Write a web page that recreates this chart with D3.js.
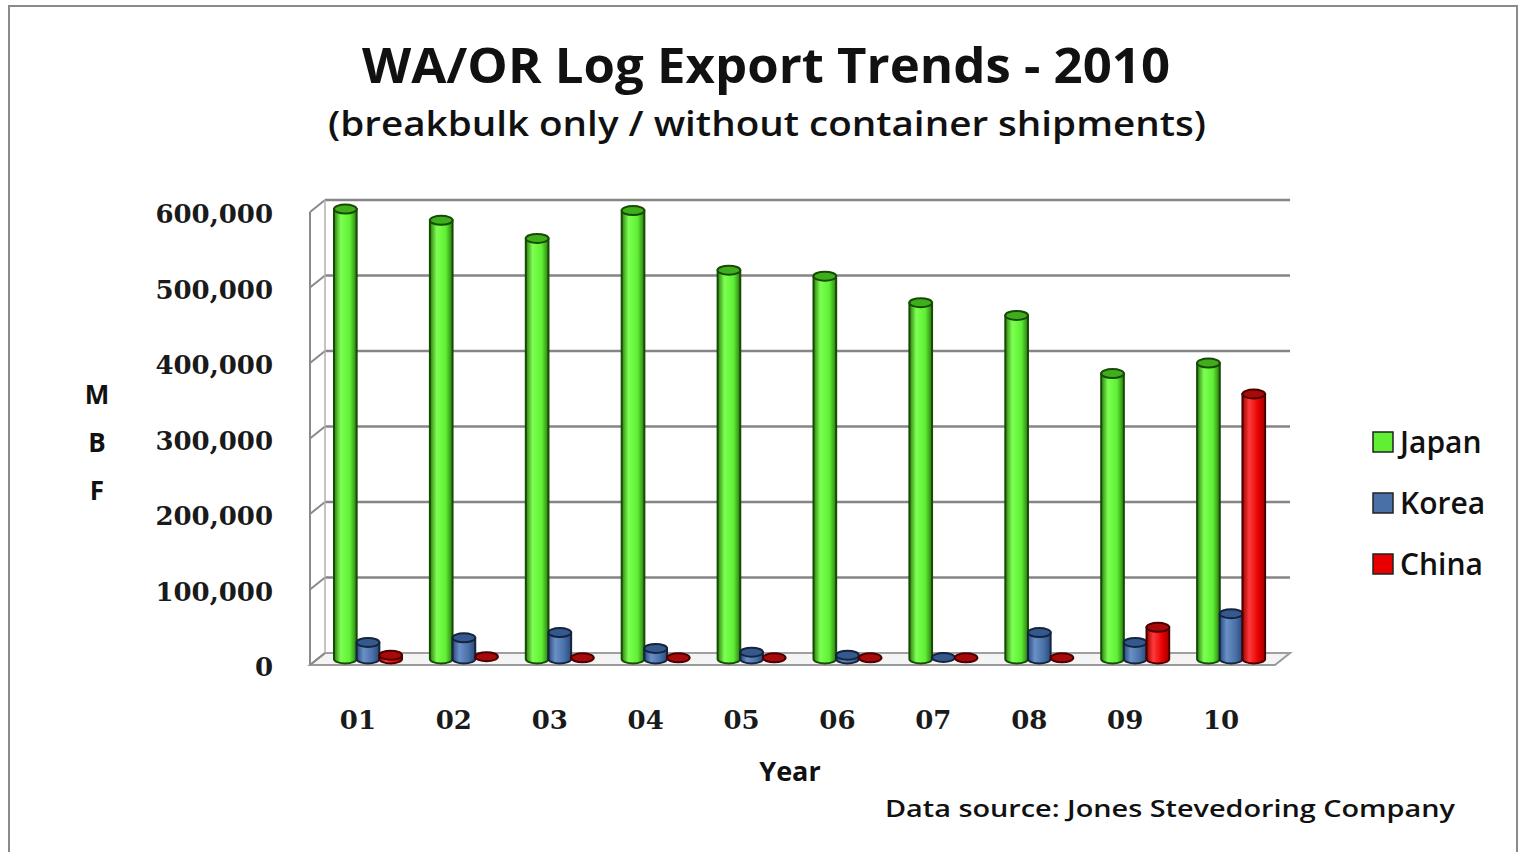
<!DOCTYPE html>
<html>
<head>
<meta charset="utf-8">
<script src="https://cdn.jsdelivr.net/npm/d3@7"></script>
<style>
  body { margin: 0; background: #fff; }
  svg { display: block; }
</style>
</head>
<body>
<div id="chart"></div>
<script>
// values (MBF)
const years = ["01", "02", "03", "04", "05", "06", "07", "08", "09", "10"];
const seriesNames = ["Japan", "Korea", "China"];
const japan = [596000, 581000, 557000, 594000, 515000, 507000, 472000, 455000, 378000, 392000];
const korea = [22000, 28000, 35000, 14000, 9000, 5000, 2000, 35000, 22000, 60000];
const china = [5000, 3000, 1500, 1500, 1500, 1500, 1500, 1500, 42000, 351000];
const yTicks = [0, 100000, 200000, 300000, 400000, 500000, 600000];

const colors = {
  Japan: {dark: "#2b7d10", light: "#7dff52", mid: "#5ff034", top: "#3fae1c", line: "#174a05"},
  Korea: {dark: "#2a4a7a", light: "#6a90c8", mid: "#4a70a8", top: "#35598c", line: "#14243f"},
  China: {dark: "#9e0000", light: "#ff3a3a", mid: "#e80000", top: "#a80a0a", line: "#4a0000"}
};

const W = 1520, H = 852;
const depth = {dx: 15, dy: -12};   // 3d offset of back wall
const plot = {left: 310, right: 1275, bottom: 665, top: 212};

const svg = d3.select("#chart").append("svg")
  .attr("width", W).attr("height", H);

// outer frame
svg.append("rect")
  .attr("x", 9).attr("y", 6).attr("width", 1508).attr("height", 860)
  .attr("fill", "#fff").attr("stroke", "#8a8a8a").attr("stroke-width", 2);

// scales
let y = d3.scaleLinear().domain([0, 600000]).range([plot.bottom, plot.top]);
let x = d3.scaleBand().domain(years).range([plot.left, 1269]);
let xInner = d3.scaleBand().domain(seriesNames).range([24, 92]);

const seriesData = {Japan: japan, Korea: korea, China: china};

// gradients for cylinders
const defs = svg.append("defs");
seriesNames.forEach(function (s) {
  let g = defs.append("linearGradient").attr("id", "grad" + s)
    .attr("x1", "0%").attr("x2", "100%").attr("y1", "0%").attr("y2", "0%");
  g.append("stop").attr("offset", "0%").attr("stop-color", colors[s].dark);
  g.append("stop").attr("offset", "30%").attr("stop-color", colors[s].light);
  g.append("stop").attr("offset", "70%").attr("stop-color", colors[s].mid);
  g.append("stop").attr("offset", "100%").attr("stop-color", colors[s].dark);
});

// floor
let x0 = plot.left, x1 = plot.right, y0 = plot.bottom;
svg.append("path")
  .attr("d", "M" + x0 + "," + y0 + " L" + (x0 + depth.dx) + "," + (y0 + depth.dy) +
    " L" + (x1 + depth.dx) + "," + (y0 + depth.dy) + " L" + x1 + "," + y0 + "Z")
  .attr("fill", "#f4f4f4").attr("stroke", "#9a9a9a").attr("stroke-width", 2);

// back wall gridlines + left wall slants
const grid = svg.append("g");
grid.selectAll("line.back").data(yTicks).enter().append("line")
  .attr("class", "back")
  .attr("x1", x0 + depth.dx).attr("x2", x1 + depth.dx)
  .attr("y1", d => y(d) + depth.dy).attr("y2", d => y(d) + depth.dy)
  .attr("stroke", d => d === 0 ? "#a0a0a0" : "#858585")
  .attr("stroke-width", d => d === 0 ? 1.5 : 2.5);
grid.selectAll("line.side").data(yTicks).enter().append("line")
  .attr("class", "side")
  .attr("x1", x0).attr("x2", x0 + depth.dx)
  .attr("y1", d => y(d)).attr("y2", d => y(d) + depth.dy)
  .attr("stroke", "#8a8a8a").attr("stroke-width", 2);
grid.append("line")
  .attr("x1", x0).attr("x2", x0).attr("y1", y(0)).attr("y2", y(600000))
  .attr("stroke", "#8a8a8a").attr("stroke-width", 2);
grid.append("line")
  .attr("x1", x0 + depth.dx).attr("x2", x0 + depth.dx)
  .attr("y1", y(0) + depth.dy).attr("y2", y(600000) + depth.dy)
  .attr("stroke", "#b0b0b0").attr("stroke-width", 1.5);

// y axis labels
const yAxis = svg.append("g")
  .attr("transform", "translate(273,0)")
  .call(d3.axisLeft(y).tickValues(yTicks).tickFormat(d3.format(",")).tickSize(0).tickPadding(0));
yAxis.select(".domain").remove();
yAxis.selectAll("text")
  .attr("dy", "0.42em")
  .style("font-family", "'DejaVu Serif', serif")
  .style("font-weight", 700)
  .style("font-size", "26px")
  .attr("fill", "#1a1a1a");

// cylinders, drawn at mid depth
const mid = {dx: depth.dx / 2, dy: depth.dy / 2};
const barW = xInner.bandwidth();
const ry = 4.5;
const bars = svg.append("g");
years.forEach(function (yr, i) {
  seriesNames.forEach(function (s) {
    let v = seriesData[s][i];
    let bx = x(yr) + xInner(s) + mid.dx - 7.5;
    let base = y(0) + mid.dy;
    let top = y(v) + mid.dy;
    let c = colors[s];
    let g = bars.append("g");
    if (base - top > 3) {
      g.append("path")
        .attr("d", "M" + bx + "," + top + " L" + bx + "," + base +
          " A" + barW / 2 + "," + ry + " 0 0 0 " + (bx + barW) + "," + base +
          " L" + (bx + barW) + "," + top + "Z")
        .attr("fill", "url(#grad" + s + ")")
        .attr("stroke", c.line).attr("stroke-width", 2);
    }
    g.append("ellipse")
      .attr("cx", bx + barW / 2).attr("cy", top)
      .attr("rx", barW / 2).attr("ry", ry)
      .attr("fill", c.top).attr("stroke", c.line).attr("stroke-width", 2);
  });
});

// x axis labels
const xAxis = svg.append("g")
  .attr("transform", "translate(0,720)")
  .call(d3.axisBottom(x).tickSize(0).tickPadding(0));
xAxis.select(".domain").remove();
xAxis.selectAll("text")
  .attr("dy", "0.36em")
  .style("font-family", "'DejaVu Serif', serif")
  .style("font-weight", 700)
  .style("font-size", "26px")
  .attr("fill", "#1a1a1a");

// titles
svg.append("text")
  .attr("x", 766).attr("y", 83)
  .attr("text-anchor", "middle")
  .attr("textLength", 808).attr("lengthAdjust", "spacingAndGlyphs")
  .style("font-family", "'Open Sans', sans-serif")
  .style("font-weight", 700).style("font-size", "48px")
  .attr("fill", "#111")
  .text("WA/OR Log Export Trends - 2010");
svg.append("text")
  .attr("x", 767).attr("y", 136)
  .attr("text-anchor", "middle")
  .attr("textLength", 878).attr("lengthAdjust", "spacingAndGlyphs")
  .style("font-family", "'Open Sans', sans-serif")
  .style("font-weight", 600).style("font-size", "35px")
  .attr("fill", "#111")
  .text("(breakbulk only / without container shipments)");

// axis titles
["M", "B", "F"].forEach(function (ch, i) {
  svg.append("text")
    .attr("x", 97).attr("y", 404 + i * 48)
    .attr("text-anchor", "middle")
    .style("font-family", "'Open Sans', sans-serif")
    .style("font-weight", 700).style("font-size", "26px")
    .attr("fill", "#111")
    .text(ch);
});
svg.append("text")
  .attr("x", 790).attr("y", 781)
  .attr("text-anchor", "middle")
  .style("font-family", "'Open Sans', sans-serif")
  .style("font-weight", 700).style("font-size", "27px")
  .attr("fill", "#111")
  .text("Year");

// legend
const legend = svg.append("g").attr("transform", "translate(1373,0)");
seriesNames.forEach(function (s, i) {
  let ly = 442 + i * 61;
  legend.append("rect")
    .attr("x", 0).attr("y", ly - 10).attr("width", 20).attr("height", 20)
    .attr("fill", colors[s].mid).attr("stroke", "#222").attr("stroke-width", 1.5);
  legend.append("text")
    .attr("x", 27).attr("y", ly).attr("dy", "0.35em")
    .style("font-family", "'Open Sans', sans-serif")
    .style("font-weight", 600)
    .style("font-size", "30px")
    .attr("fill", "#111")
    .text(s);
});

// source
svg.append("text")
  .attr("x", 885).attr("y", 817)
  .attr("textLength", 570).attr("lengthAdjust", "spacingAndGlyphs")
  .style("font-family", "'Open Sans', sans-serif")
  .style("font-weight", 600).style("font-size", "23px")
  .attr("fill", "#111")
  .text("Data source: Jones Stevedoring Company");
</script>
</body>
</html>
